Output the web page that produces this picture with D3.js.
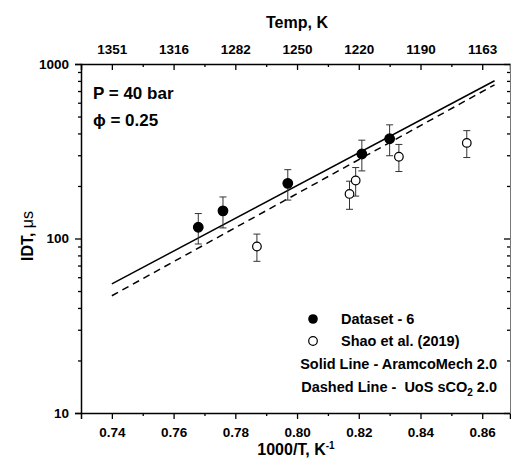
<!DOCTYPE html>
<html>
<head>
<meta charset="utf-8">
<script src="https://cdn.jsdelivr.net/npm/d3@7"></script>
<style>
  body { margin: 0; background: #fff; }
  svg { font-family: "Liberation Sans", Arial, sans-serif; font-weight: bold; }
  text { white-space: pre; }
</style>
</head>
<body>
<svg id="chart" width="511" height="470"></svg>
<script>
// data
var dsX = [0.768, 0.776, 0.797, 0.821, 0.830];
var dsIDT = [116, 144, 207, 305, 373];
var dsErr = [23, 29, 41, 61, 75];

var shaoX = [0.787, 0.817, 0.819, 0.833, 0.855];
var shaoIDT = [90, 180, 215, 294, 353];
var shaoErr = [16, 33, 40, 52, 62];

var aramcoX = [0.74, 0.864];
var aramcoIDT = [55, 802];
var uosX = [0.74, 0.864];
var uosIDT = [47, 760];

var xMajor = [0.74, 0.76, 0.78, 0.80, 0.82, 0.84, 0.86];
var xMinor = [0.75, 0.77, 0.79, 0.81, 0.83, 0.85];
var tempLabels = ["1351", "1316", "1282", "1250", "1220", "1190", "1163"];
var yMajor = [10, 100, 1000];

var svg = d3.select("#chart");
// note: "top" is taken by window.top, so plot* names
var plotL = 81, plotR = 510, plotT = 64, plotB = 413;

var x = d3.scaleLinear().domain([0.73, 0.869]).range([plotL, plotR]);
var y = d3.scaleLog().domain([10, 1000]).range([plotB, plotT]);

var yMinor = [];
[10, 100].forEach(function(d) { for (var k = 2; k < 10; k++) yMinor.push(d * k); });

function styleAxis(g) {
  g.select(".domain").attr("stroke", "#000").attr("stroke-width", 1.5);
  g.selectAll(".tick line").attr("stroke", "#000").attr("stroke-width", 1.3);
  g.selectAll("text").attr("fill", "#000").attr("font-size", "13.5px").attr("font-weight", "bold")
    .attr("font-family", "'Liberation Sans', Arial, sans-serif");
}

// bottom axis
svg.append("g").attr("transform", "translate(0," + plotB + ")")
  .call(d3.axisBottom(x).tickValues(xMajor).tickSize(6).tickPadding(8).tickFormat(d3.format(".2f")))
  .call(styleAxis);
svg.append("g").attr("transform", "translate(0," + plotB + ")")
  .call(d3.axisBottom(x).tickValues(xMinor).tickSize(3).tickFormat(""))
  .call(styleAxis).select(".domain").remove();

// top axis (temperature), ticks inward
svg.append("g").attr("transform", "translate(0," + plotT + ")")
  .call(d3.axisTop(x).tickValues(xMajor).tickSize(-6).tickPadding(10)
    .tickFormat(function(d, i) { return tempLabels[i]; }))
  .call(styleAxis);
svg.append("g").attr("transform", "translate(0," + plotT + ")")
  .call(d3.axisTop(x).tickValues(xMinor).tickSize(-3).tickFormat(""))
  .call(styleAxis).select(".domain").remove();

// left axis
svg.append("g").attr("transform", "translate(" + plotL + ",0)")
  .call(d3.axisLeft(y).tickValues(yMajor).tickSize(6).tickPadding(6).tickFormat(d3.format("d")))
  .call(styleAxis);
svg.append("g").attr("transform", "translate(" + plotL + ",0)")
  .call(d3.axisLeft(y).tickValues(yMinor).tickSize(3).tickFormat(""))
  .call(styleAxis).select(".domain").remove();

// right axis, faint, ticks inward
var rg = svg.append("g").attr("transform", "translate(" + plotR + ",0)")
  .call(d3.axisRight(y).tickValues(yMajor).tickSize(-6).tickFormat(""))
  .call(styleAxis);
rg.select(".domain").attr("stroke", "#777").attr("stroke-width", 1);
svg.append("g").attr("transform", "translate(" + plotR + ",0)")
  .call(d3.axisRight(y).tickValues(yMinor).tickSize(-3).tickFormat(""))
  .call(styleAxis).select(".domain").remove();

// model lines
var line = d3.line().x(function(d) { return x(d[0]); }).y(function(d) { return y(d[1]); });
svg.append("path").datum(d3.zip(aramcoX, aramcoIDT)).attr("d", line)
  .attr("fill", "none").attr("stroke", "#000").attr("stroke-width", 1.5);
svg.append("path").datum(d3.zip(uosX, uosIDT)).attr("d", line)
  .attr("fill", "none").attr("stroke", "#000").attr("stroke-width", 1.5)
  .attr("stroke-dasharray", "7,5");

// error bars + markers
function drawSeries(xs, vals, errs, filled) {
  var data = xs.map(function(d, i) { return { x: d, v: vals[i], e: errs[i] }; });
  var g = svg.append("g");
  var eb = g.selectAll(".eb").data(data).enter().append("g").attr("stroke", "#333").attr("stroke-width", 1);
  eb.append("line")
    .attr("x1", function(d) { return x(d.x); }).attr("x2", function(d) { return x(d.x); })
    .attr("y1", function(d) { return y(d.v + d.e); }).attr("y2", function(d) { return y(d.v - d.e); });
  [1, -1].forEach(function(s) {
    eb.append("line")
      .attr("x1", function(d) { return x(d.x) - 3.5; }).attr("x2", function(d) { return x(d.x) + 3.5; })
      .attr("y1", function(d) { return y(d.v + s * d.e); }).attr("y2", function(d) { return y(d.v + s * d.e); });
  });
  g.selectAll("circle").data(data).enter().append("circle")
    .attr("cx", function(d) { return x(d.x); })
    .attr("cy", function(d) { return y(d.v); })
    .attr("r", filled ? 4.8 : 4.3)
    .attr("fill", filled ? "#000" : "#fff")
    .attr("stroke", "#000").attr("stroke-width", 1.2);
}
drawSeries(dsX, dsIDT, dsErr, true);
drawSeries(shaoX, shaoIDT, shaoErr, false);

// titles
svg.append("text").attr("x", 297).attr("y", 28).attr("text-anchor", "middle")
  .attr("font-size", "16px").text("Temp, K");
var xt = svg.append("text").attr("x", 296).attr("y", 455).attr("text-anchor", "middle")
  .attr("font-size", "16px");
xt.append("tspan").text("1000/T, K");
xt.append("tspan").attr("font-size", "10px").attr("dy", "-6").text("-1");
var yt = svg.append("text").attr("transform", "translate(33,236) rotate(-90)")
  .attr("text-anchor", "middle").attr("font-size", "16px");
yt.append("tspan").text("IDT, ");
yt.append("tspan").attr("font-weight", "normal").text("\u03bcs");

// annotations
svg.append("text").attr("x", 93).attr("y", 99).attr("font-size", "17px").text("P = 40 bar");
svg.append("text").attr("x", 93).attr("y", 126).attr("font-size", "17px").text("\u03d5 = 0.25");

// legend
svg.append("circle").attr("cx", 313).attr("cy", 319).attr("r", 4.8).attr("fill", "#000");
svg.append("circle").attr("cx", 313).attr("cy", 341).attr("r", 4.3).attr("fill", "#fff")
  .attr("stroke", "#000").attr("stroke-width", 1.2);
svg.append("text").attr("x", 341).attr("y", 324).attr("font-size", "14.5px").text("Dataset - 6");
svg.append("text").attr("x", 341).attr("y", 346).attr("font-size", "14.5px").text("Shao et al. (2019)");
svg.append("text").attr("x", 497).attr("y", 369).attr("text-anchor", "end").attr("font-size", "14.5px")
  .text("Solid Line - AramcoMech 2.0");
var dl = svg.append("text").attr("x", 497).attr("y", 392).attr("text-anchor", "end").attr("font-size", "14.5px");
dl.append("tspan").text("Dashed Line -  UoS sCO");
dl.append("tspan").attr("font-size", "10px").attr("dy", "4").text("2");
dl.append("tspan").attr("dy", "-4").text(" 2.0");
</script>
</body>
</html>
